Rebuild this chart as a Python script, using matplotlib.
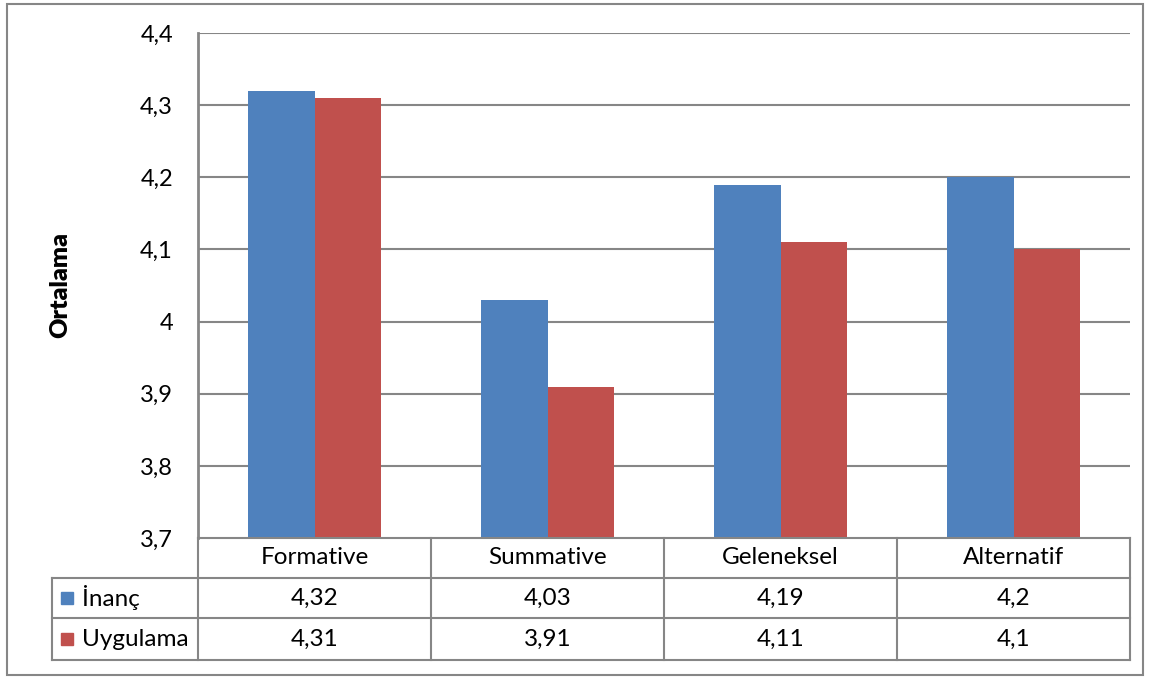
import matplotlib.pyplot as plt
from matplotlib.lines import Line2D
from matplotlib.patches import Rectangle

categories = ['Formative', 'Summative', 'Geleneksel', 'Alternatif']
series_names = ['İnanç', 'Uygulama']
inanc = [4.32, 4.03, 4.19, 4.2]
uygulama = [4.31, 3.91, 4.11, 4.1]
yticks = [3.7, 3.8, 3.9, 4.0, 4.1, 4.2, 4.3, 4.4]

colors = ['#4F81BD', '#C0504D']
grid_color = '#868686'
W, H = 1150, 678

plt.rcParams['font.family'] = ['Lato', 'DejaVu Sans']


def fx(x):
    return x / W


def fy(y):
    return 1 - y / H


def fmt(v):
    return ('%g' % v).replace('.', ',')


fig = plt.figure(figsize=(W / 100, H / 100), dpi=100)

# outer chart border
fig.add_artist(Rectangle((fx(7), fy(675)), fx(1143) - fx(7), fy(4) - fy(675),
                         transform=fig.transFigure, fill=False,
                         edgecolor=grid_color, linewidth=1.5))

left, right, top, bottom = 198, 1130, 33, 538
ax = fig.add_axes([fx(left), fy(bottom), fx(right) - fx(left), fy(top) - fy(bottom)])

n = len(categories)
bw = 1 / 3.5
xs = list(range(n))
ax.bar([x - bw / 2 for x in xs], inanc, width=bw, color=colors[0], zorder=3)
ax.bar([x + bw / 2 for x in xs], uygulama, width=bw, color=colors[1], zorder=3)

ax.set_xlim(-0.5, n - 0.5)
ax.set_ylim(3.7, 4.4)
ax.set_yticks(yticks)
ax.set_yticklabels([fmt(t) for t in yticks], fontsize=17)
ax.tick_params(axis='y', length=0, pad=18)
ax.set_xticks([])
for t in yticks[1:]:
    ax.axhline(t, color=grid_color, linewidth=1.5, zorder=1)
for s in ['top', 'right', 'bottom']:
    ax.spines[s].set_visible(False)
ax.spines['left'].set_color(grid_color)
ax.spines['left'].set_linewidth(2)

fig.text(fx(60), fy(285), 'Ortalama', rotation=90, fontsize=18,
         fontweight='heavy', ha='center', va='center')

# data table under the axis
rows = [538, 578, 618, 660]
cols = [198, 431, 664, 897, 1130]
lw = 1.5


def hline(y, x0, x1):
    fig.add_artist(Line2D([fx(x0), fx(x1)], [fy(y), fy(y)], color=grid_color,
                          linewidth=lw, transform=fig.transFigure))


def vline(x, y0, y1):
    fig.add_artist(Line2D([fx(x), fx(x)], [fy(y0), fy(y1)], color=grid_color,
                          linewidth=lw, transform=fig.transFigure))


hline(rows[0], cols[0], cols[-1])
for y in rows[1:]:
    hline(y, 52, cols[-1])
for x in cols:
    vline(x, rows[0], rows[-1])
vline(52, rows[1], rows[-1])

for i, c in enumerate(categories):
    cx = (cols[i] + cols[i + 1]) / 2
    fig.text(fx(cx), fy((rows[0] + rows[1]) / 2), c, fontsize=17.5,
             ha='center', va='center')
    for r, vals in enumerate([inanc, uygulama]):
        fig.text(fx(cx), fy((rows[r + 1] + rows[r + 2]) / 2), fmt(vals[i]),
                 fontsize=17.5, ha='center', va='center')

for r, name in enumerate(series_names):
    cy = (rows[r + 1] + rows[r + 2]) / 2
    fig.add_artist(Rectangle((fx(61), fy(cy + 6)), fx(12), fy(0) - fy(12),
                             transform=fig.transFigure, color=colors[r]))
    fig.text(fx(82), fy(cy), name, fontsize=17.5, ha='left', va='center')

fig.savefig('out.png', dpi=100)
